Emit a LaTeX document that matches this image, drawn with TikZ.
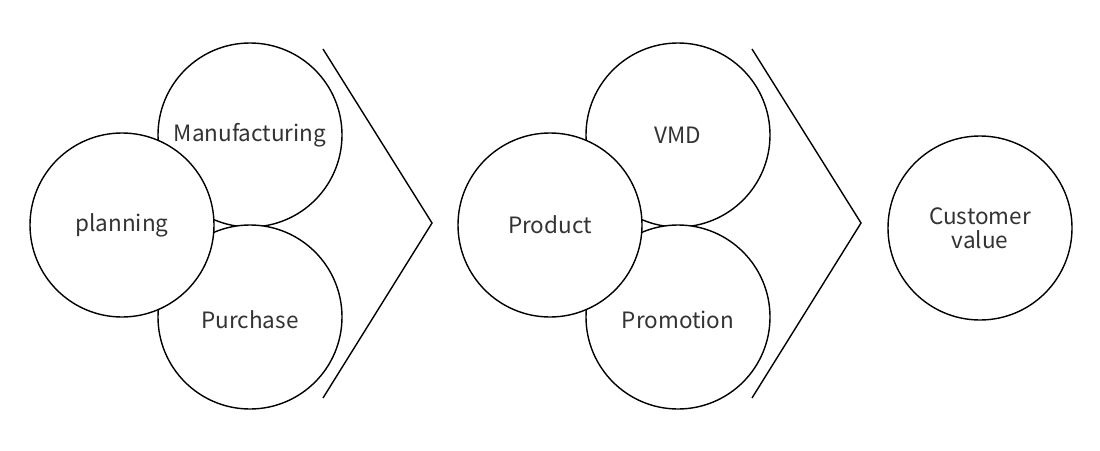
\documentclass[tikz,border=0pt]{standalone}
\usepackage{fontspec}
\setmainfont{Noto Sans CJK KR}
\usetikzlibrary{positioning}
\definecolor{inkgray}{HTML}{333333}

\begin{document}
\begin{tikzpicture}[
  x=1pt, y=-1pt,
  ball/.style={circle, draw=black, fill=white, line width=1.4pt, minimum size=184pt,
    inner sep=0pt, align=center, font=\fontsize{22.5}{24}\selectfont, text=inkgray},
  word/.style={text=inkgray, font=\fontsize{22.5}{24}\selectfont},
  chev/.style={draw=black, line width=1.4pt}
]
\useasboundingbox (0,0) rectangle (1100,450);

% first group
\node[ball] (manuf) at (250,135) {};
\node[ball] (purch) at (250,317) {};
\node[ball] (plan) at (122,225) {planning};
\node[word] (manuftxt) at (250,135) {Manufacturing};
\node[word] (purchtxt) at (250,320) {Purchase};
\draw[chev] (323,49) -- (432,223) -- (323,398);

% second group
\node[ball] (vmd) at (678,135) {};
\node[ball] (promo) at (678,317) {};
\node[ball] (prod) at (550,225) {Product};
\node[word] (vmdtxt) at (678,135) {VMD};
\node[word] (promotxt) at (678,320) {Promotion};
\draw[chev] (752,49) -- (861,223) -- (752,398);

% result
\node[ball] (value) at (980,228) {Customer\\value};

\end{tikzpicture}
\end{document}
